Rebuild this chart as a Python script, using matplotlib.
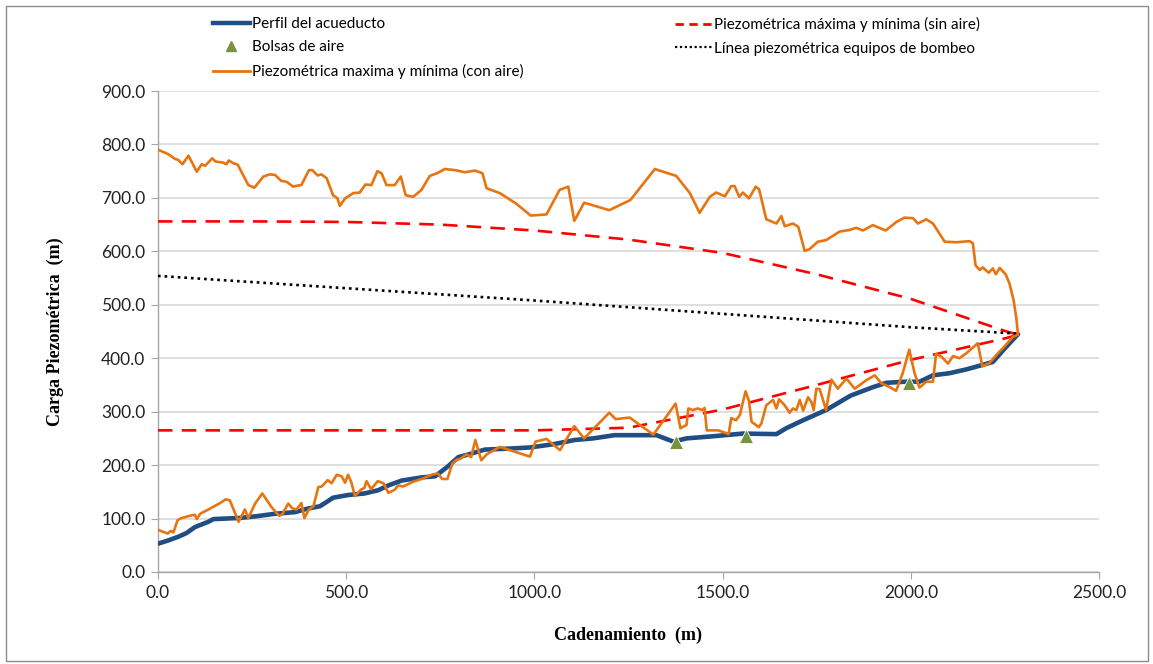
import matplotlib
matplotlib.use("Agg")
import matplotlib.pyplot as plt
from matplotlib.lines import Line2D
from matplotlib.patches import Rectangle
from matplotlib.ticker import MultipleLocator, FormatStrFormatter

# --- Perfil del acueducto ---
perfil_x = [0, 27, 54, 76, 98, 116, 134, 147, 214, 258, 311, 364, 400, 430, 448, 465,
            505, 549, 585, 612, 647, 700, 736, 749, 771, 798, 825, 868, 935, 988, 1050,
            1107, 1156, 1213, 1324, 1369, 1404, 1475, 1554, 1643, 1669, 1714, 1775, 1840,
            1900, 1935, 1983, 2023, 2059, 2103, 2147, 2183, 2218, 2249, 2285]
perfil_y = [53, 59, 66, 73, 84, 89, 94, 99, 101, 104, 109, 112, 119, 123, 131, 139,
            144, 147, 153, 162, 171, 177, 179, 186, 198, 215, 220, 229, 231, 233, 239,
            247, 250, 256, 256, 244, 250, 254, 259, 258, 269, 284, 303, 330,
            346, 354, 356, 356, 368, 372, 379, 386, 393, 418, 445]

# --- Bolsas de aire ---
bolsas_x = [1375, 1562, 1996]
bolsas_y = [244, 255, 354]

# --- Piezométrica máxima (con aire) ---
max_aire_x = [0, 27, 45, 54, 65, 81, 103, 116, 125, 144, 153, 173, 182, 188, 200, 212,
              240, 256, 280, 297, 311, 327, 342, 359, 371, 381, 401, 410, 424, 434, 448,
              465, 477, 483, 497, 519, 536, 551, 567, 583, 594, 607, 629, 645, 658, 678,
              700, 722, 744, 762, 789, 815, 842, 851, 862, 873, 908, 952, 990, 1032, 1067,
              1090, 1106, 1132, 1199, 1255, 1320, 1377, 1413, 1439, 1466, 1483, 1506,
              1523, 1532, 1544, 1554, 1570, 1588, 1597, 1616, 1643, 1656, 1665, 1687,
              1701, 1718, 1731, 1753, 1775, 1811, 1837, 1855, 1873, 1899, 1933, 1962,
              1983, 2006, 2019, 2041, 2059, 2090, 2121, 2156, 2165, 2172, 2183, 2191,
              2207, 2218, 2226, 2236, 2252, 2262, 2273, 2280, 2285]
max_aire_y = [790, 782, 773, 771, 763, 779, 749, 763, 760, 774, 768, 766, 763, 770, 765, 762,
              724, 719, 740, 744, 743, 732, 730, 721, 723, 724, 752, 752, 742, 744, 737,
              705, 699, 685, 699, 709, 710, 725, 724, 750, 746, 724, 724, 740, 705, 702,
              715, 741, 747, 754, 752, 748, 751, 749, 746, 718, 709, 689, 667, 669, 715,
              721, 657, 691, 677, 696, 754, 741, 709, 672, 702, 710, 703,
              722, 722, 702, 710, 699, 721, 716, 660, 652, 666, 647, 652,
              646, 601, 604, 618, 621, 637, 640, 644, 639, 649, 639, 655,
              663, 662, 652, 660, 652, 618, 617, 619, 615, 574, 565, 570,
              560, 568, 557, 569, 557, 540, 509, 477, 444]

# --- Piezométrica mínima (con aire) ---
min_aire_x = [0, 14, 26, 34, 41, 52, 63, 89, 98, 103, 112, 134, 165, 180, 191, 214, 231,
              240, 258, 277, 302, 322, 330, 346, 357, 368, 381, 389, 401, 413, 426, 435,
              451, 461, 475, 488, 497, 505, 514, 523, 539, 548, 554, 566, 572, 584, 599,
              612, 629, 638, 651, 678, 700, 731, 744, 755, 769, 782, 793, 804, 819, 832,
              843, 859, 873, 908, 988, 1003, 1032, 1068, 1106, 1132, 1199, 1216, 1253,
              1316, 1375, 1388, 1404, 1409, 1421, 1434, 1446, 1452, 1458, 1475, 1488,
              1501, 1516, 1523, 1536, 1546, 1553, 1561, 1570, 1577, 1596, 1603, 1616,
              1634, 1643, 1650, 1665, 1678, 1687, 1696, 1705, 1714, 1727, 1736, 1742,
              1749, 1758, 1775, 1789, 1806, 1829, 1851, 1882, 1904, 1922, 1944, 1961,
              1978, 1996, 2010, 2023, 2041, 2059, 2067, 2081, 2099, 2112, 2129, 2147,
              2178, 2190, 2209, 2231, 2249, 2271, 2285]
min_aire_y = [79, 75, 72, 77, 74, 97, 101, 106, 107, 99, 109, 117, 129, 136, 134, 94, 117,
              101, 128, 147, 121, 105, 108, 128, 119, 117, 129, 101, 117, 123, 159, 160,
              172, 166, 182, 179, 167, 182, 167, 142, 154, 157, 170, 155, 160, 170, 166,
              148, 154, 162, 160, 169, 174, 183, 184, 174, 174, 203, 210, 212, 220, 215,
              247, 209, 220, 234, 216, 244, 249, 228, 273, 250, 298, 286, 289,
              257, 315, 269, 275, 306, 303, 306, 303, 307, 265, 265, 265,
              262, 258, 288, 284, 294, 315, 338, 320, 281, 271, 278, 312,
              322, 306, 323, 312, 298, 306, 303, 322, 302, 327, 318, 303,
              343, 342, 303, 360, 343, 362, 343, 359, 368, 353, 346, 339,
              371, 416, 372, 345, 356, 356, 408, 403, 390, 404, 400, 409,
              428, 385, 391, 409, 422, 440, 444]

# --- Piezométrica máxima y mínima (sin aire) ---
sin_aire_x = [0, 250, 500, 750, 1000, 1250, 1500, 1750, 2000, 2250, 2285]
sin_aire_max = [656, 656, 655, 650, 639, 622, 597, 557, 511, 451, 444]
sin_aire_min = [265, 265, 265, 265, 265, 270, 304, 350, 397, 437, 444]

# --- Línea piezométrica equipos de bombeo ---
bombeo_x = [0, 500, 1000, 1500, 2000, 2285]
bombeo_y = [554, 531, 508, 483, 458, 446]

C_BLUE = "#1F4E85"
C_ORANGE = "#E8740F"
C_RED = "#FF0000"
C_GREEN = "#77933C"
C_GRID = "#D9D9D9"
C_AXIS = "#A6A6A6"

plt.rcParams["font.family"] = ["Lato", "DejaVu Sans"]

W, H = 1153, 664
fig = plt.figure(figsize=(W / 100, H / 100), dpi=100)
ax = fig.add_axes([158 / W, 1 - 572 / H, (1099 - 158) / W, (572 - 91) / H])

# outer frame of the chart area
fig.patches.append(Rectangle((6 / W, 3 / H), (1148 - 6) / W, (658 - 3) / H,
                             transform=fig.transFigure, fill=False,
                             edgecolor="#8C8C8C", linewidth=1.0))

# orange series: maximum going out, minimum coming back
orange_x = max_aire_x + min_aire_x[::-1]
orange_y = max_aire_y + min_aire_y[::-1]

ax.plot(perfil_x, perfil_y, color=C_BLUE, lw=3.3, solid_capstyle="round", zorder=3)
ax.plot(sin_aire_x, sin_aire_max, color=C_RED, lw=1.9, dashes=(5.5, 3.5), zorder=4)
ax.plot(sin_aire_x, sin_aire_min, color=C_RED, lw=1.9, dashes=(5.5, 3.5), zorder=4)
ax.plot(bombeo_x, bombeo_y, color="black", lw=1.9, linestyle=(0, (1, 1.5)), zorder=4)
ax.plot(orange_x, orange_y, color=C_ORANGE, lw=1.9, zorder=5)
ax.plot(bolsas_x, bolsas_y, linestyle="none", marker="^", markersize=10,
        color=C_GREEN, markeredgecolor="white", markeredgewidth=0.6, zorder=6)

ax.set_xlim(0, 2500)
ax.set_ylim(0, 900)
ax.xaxis.set_major_locator(MultipleLocator(500))
ax.yaxis.set_major_locator(MultipleLocator(100))
ax.xaxis.set_major_formatter(FormatStrFormatter("%.1f"))
ax.yaxis.set_major_formatter(FormatStrFormatter("%.1f"))
ax.grid(axis="y", color=C_GRID, lw=1.2, zorder=0)
ax.set_axisbelow(True)
for side in ("top", "right"):
    ax.spines[side].set_visible(False)
for side in ("left", "bottom"):
    ax.spines[side].set_color(C_AXIS)
    ax.spines[side].set_linewidth(1.0)
ax.tick_params(axis="both", direction="out", length=5, color=C_AXIS,
               labelsize=12.5, labelcolor="#222222", pad=4)

ax.set_xlabel("Cadenamiento  (m)", family="Liberation Serif", fontweight="bold",
              fontsize=13, labelpad=19)
ax.set_ylabel("Carga Piezométrica  (m)", family="Liberation Serif", fontweight="bold",
              fontsize=13, labelpad=27)

# legend split in two columns
h_perfil = Line2D([], [], color=C_BLUE, lw=3.2)
h_bolsas = Line2D([], [], linestyle="none", marker="^", markersize=7, color=C_GREEN)
h_aire = Line2D([], [], color=C_ORANGE, lw=2)
h_sin = Line2D([], [], color=C_RED, lw=2, dashes=(3, 2))
h_bomb = Line2D([], [], color="black", lw=1.6, linestyle=(0, (1, 1.2)))

leg_kw = dict(frameon=False, loc="upper left", fontsize=11, handlelength=2.4,
              handletextpad=0.15, labelspacing=0.62, borderpad=0, borderaxespad=0)
leg1 = fig.legend([h_perfil, h_bolsas, h_aire],
                  ["Perfil del acueducto", "Bolsas de aire",
                   "Piezométrica maxima y mínima (con aire)"],
                  bbox_to_anchor=(213 / W, 1 - 17 / H), **leg_kw)
leg2 = fig.legend([h_sin, h_bomb],
                  ["Piezométrica máxima y mínima (sin aire)",
                   "Línea piezométrica equipos de bombeo"],
                  bbox_to_anchor=(675 / W, 1 - 17 / H), **leg_kw)

fig.savefig("out.png", dpi=100, facecolor="white")
